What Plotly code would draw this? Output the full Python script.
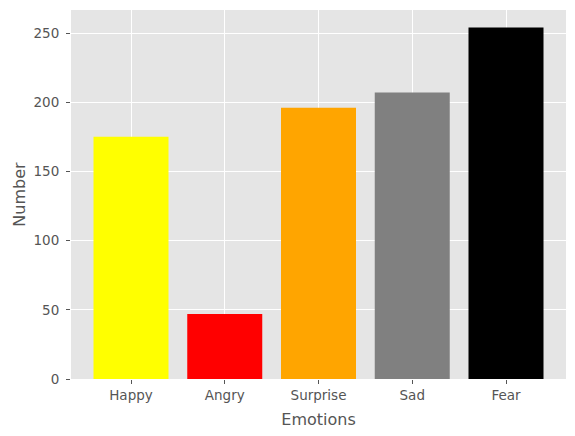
import plotly.graph_objects as go

categories = ["Happy", "Angry", "Surprise", "Sad", "Fear"]
values = [175, 47, 196, 207, 254]
colors = ["yellow", "red", "orange", "gray", "black"]
y_ticks = [0, 50, 100, 150, 200, 250]

fig = go.Figure(go.Bar(
    x=list(range(len(categories))), y=values,
    marker=dict(color=colors, line=dict(width=0)),
    width=0.8,
))

font = "DejaVu Sans, sans-serif"
fig.update_layout(
    width=575, height=436,
    margin=dict(l=71, r=9, t=10, b=57, autoexpand=False),
    paper_bgcolor="white", plot_bgcolor="#E5E5E5",
    font=dict(family=font, color="#555555", size=13.5),
    showlegend=False,
    bargap=0.2,
)
fig.update_xaxes(
    range=[-0.64, 4.64], automargin=False,
    tickmode="array", tickvals=list(range(len(categories))), ticktext=categories,
    ticks="outside", ticklen=4, tickcolor="#555555", tickwidth=1,
    showgrid=True, gridcolor="white", gridwidth=1,
    zeroline=False, showline=False,
    title=dict(text="Emotions", font=dict(size=16, color="#555555"), standoff=11),
)
fig.update_yaxes(
    range=[0, 266.7], automargin=False,
    tickmode="array", tickvals=y_ticks,
    ticks="outside", ticklen=4, tickcolor="#555555", tickwidth=1,
    ticklabelstandoff=4,
    showgrid=True, gridcolor="white", gridwidth=1,
    zeroline=False, showline=False,
    title=dict(text="Number", font=dict(size=16, color="#555555"), standoff=3),
)
post = ("document.body.style.margin='0';document.body.style.padding='0';"
        "document.body.style.overflow='hidden';"
        "Plotly.relayout(document.getElementById('{plot_id}'), {width:575, height:436});")
fig.write_html("out.html", post_script=post,
               config={"responsive": False, "displayModeBar": False})
